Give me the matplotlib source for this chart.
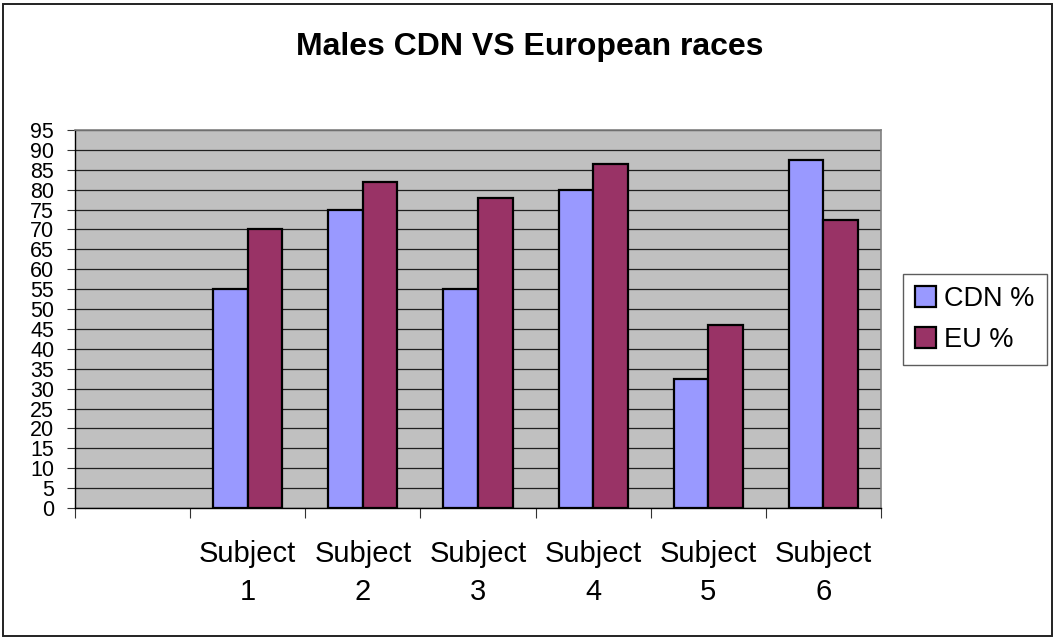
import matplotlib
matplotlib.use("Agg")
import matplotlib.pyplot as plt
from matplotlib.patches import Rectangle

plt.rcParams["font.family"] = ["Liberation Sans", "DejaVu Sans"]

# data
categories = ["", "Subject\n1", "Subject\n2", "Subject\n3", "Subject\n4", "Subject\n5", "Subject\n6"]
cdn_pct = [None, 55, 75, 55, 80, 32.5, 87.5]
eu_pct = [None, 70, 82, 78, 86.5, 46, 72.5]
y_ticks = list(range(0, 100, 5))

W, H = 1055, 639
fig = plt.figure(figsize=(W / 100, H / 100), dpi=100)
fig.patch.set_facecolor("white")

# plot area in pixel coords of the reference
left, right, top, bottom = 75, 881, 130, 508
ax = fig.add_axes([left / W, 1 - bottom / H, (right - left) / W, (bottom - top) / H])
ax.set_facecolor("#C0C0C0")

xs = [i for i, v in enumerate(cdn_pct) if v is not None]
cdn = [cdn_pct[i] for i in xs]
eu = [eu_pct[i] for i in xs]
bw = 0.30
ax.bar([x - bw / 2 for x in xs], cdn, width=bw, color="#9999FF",
       edgecolor="black", linewidth=1.6, label="CDN %", zorder=3)
ax.bar([x + bw / 2 for x in xs], eu, width=bw, color="#993366",
       edgecolor="black", linewidth=1.6, label="EU %", zorder=3)

ax.set_xlim(-0.5, len(categories) - 0.5)
ax.set_ylim(0, 95)
ax.set_yticks(y_ticks)
ax.yaxis.grid(True, color="#202020", linewidth=0.9, zorder=1)
ax.set_axisbelow(True)

# major ticks at category boundaries, labels on minor ticks at centres
ax.set_xticks([i - 0.5 for i in range(len(categories) + 1)])
ax.set_xticklabels([])
ax.set_xticks(range(len(categories)), minor=True)
ax.set_xticklabels(categories, minor=True, fontsize=21, linespacing=1.45)
ax.tick_params(axis="x", which="major", length=7, width=0.8, color="#333333")
ax.tick_params(axis="x", which="minor", length=0, pad=23)
ax.tick_params(axis="y", length=6, width=0.8, color="#333333", labelsize=15.5, pad=9)

for side in ["top", "right"]:
    ax.spines[side].set_color("#808080")
    ax.spines[side].set_linewidth(1.2)
for side in ["left", "bottom"]:
    ax.spines[side].set_color("black")
    ax.spines[side].set_linewidth(1.0)

fig.text(530 / W, 1 - 55 / H, "Males CDN VS European races", ha="center",
         va="baseline", fontsize=23, fontweight="bold")

leg = fig.legend(loc="center left", bbox_to_anchor=(902.7 / W, 0.5),
                 fontsize=19.5, handlelength=0.78, handleheight=0.78,
                 handletextpad=0.3, labelspacing=0.55, borderpad=0.45,
                 borderaxespad=0, fancybox=False, frameon=True)
leg.get_frame().set_edgecolor("#333333")
leg.get_frame().set_linewidth(1.0)

# outer chart border
fig.patches.append(Rectangle((3 / W, 3 / H), (W - 6) / W, (H - 7) / H,
                             transform=fig.transFigure, fill=False,
                             edgecolor="#222222", linewidth=1.4))

fig.savefig("out.png", dpi=100)
